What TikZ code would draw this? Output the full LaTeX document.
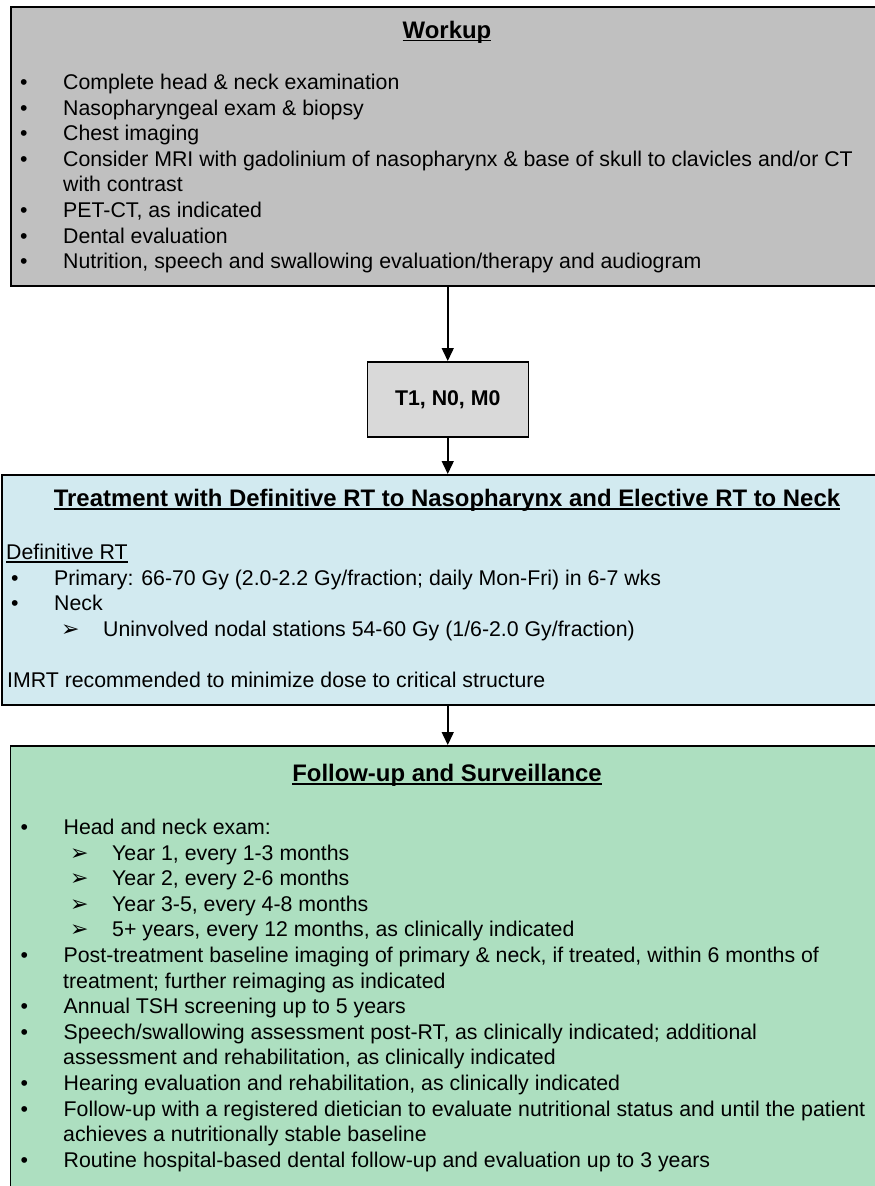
\documentclass[tikz,border=0pt]{standalone}
\usepackage{fontspec}
\setmainfont{Liberation Sans}
\newfontfamily\dingfont{DejaVu Sans}
\usetikzlibrary{arrows.meta}
\definecolor{workgray}{HTML}{C0C0C0}
\definecolor{stagegray}{HTML}{D9D9D9}
\definecolor{treatblue}{HTML}{D2EAF0}
\definecolor{followgreen}{HTML}{ADDFC0}
\def\bul{\makebox[43pt][l]{\textbullet}}
\def\subarrow{\makebox[42pt][l]{\dingfont\fontsize{22}{22}\selectfont ➢}}
\def\uln#1{\setbox0\hbox{#1}\rlap{\rule[-3.2pt]{\wd0}{1.4pt}}\box0}
\begin{document}
\begin{tikzpicture}[x=1pt,y=-1pt]
\tikzset{box/.style = {draw, line width=1.5pt, anchor=north west, inner sep=0pt}}
\tikzset{txt/.style = {anchor=base west, inner sep=0pt, font=\fontsize{21.3}{25.6}\selectfont}}
\tikzset{head/.style = {anchor=base, inner sep=0pt, font=\fontsize{23.9}{28}\selectfont\bfseries}}
\tikzset{edge/.style = {-{Triangle[length=13pt,width=12pt]}, line width=1.5pt}}
\useasboundingbox (0,0) rectangle (875,1186);
\node[box, fill=workgray, minimum width=874pt, minimum height=279pt] (workup) at (10,6) {};
\node[box, fill=stagegray, minimum width=161pt, minimum height=75pt, font=\fontsize{21.3}{25.6}\selectfont\bfseries] (stage) at (366.5,361) {T1, N0, M0};
\node[box, fill=treatblue, minimum width=892pt, minimum height=230pt] (treat) at (1,474) {};
\node[box, fill=followgreen, minimum width=875pt, minimum height=500pt] (follow) at (9.5,745) {};
\draw[edge] (workup) to (stage);
\draw[edge] (stage) to (treat);
\draw[edge] (treat) to (follow);
\node[head] (workuptitle) at (447,38) {\uln{Workup}};
\node[txt] (w1) at (20,89.5) {\bul Complete head \& neck examination};
\node[txt] (w2) at (20,115.1) {\bul Nasopharyngeal exam \& biopsy};
\node[txt] (w3) at (20,140.7) {\bul Chest imaging};
\node[txt] (w4) at (20,166.3) {\bul Consider MRI with gadolinium of nasopharynx \& base of skull to clavicles and/or CT};
\node[txt] (w4b) at (63,191.9) {with contrast};
\node[txt] (w5) at (20,217.5) {\bul PET-CT, as indicated};
\node[txt] (w6) at (20,243.1) {\bul Dental evaluation};
\node[txt] (w7) at (20,268.7) {\bul Nutrition, speech and swallowing evaluation/therapy and audiogram};
\node[head] (treattitle) at (447,506.5) {\uln{Treatment with Definitive RT to Nasopharynx and Elective RT to Neck}};
\node[txt] (t0) at (6,559.5) {\uln{Definitive RT}};
\node[txt] (t1) at (11,585.1) {\bul Primary: 66-70 Gy (2.0-2.2 Gy/fraction; daily Mon-Fri) in 6-7 wks};
\node[txt] (t2) at (11,610.7) {\bul Neck};
\node[txt] (t3) at (61,636.3) {\subarrow Uninvolved nodal stations 54-60 Gy (1/6-2.0 Gy/fraction)};
\node[txt] (t4) at (7,687.5) {IMRT recommended to minimize dose to critical structure};
\node[head] (followtitle) at (447,781.5) {\uln{Follow-up and Surveillance}};
\node[txt] (f1) at (20.5,834.5) {\bul Head and neck exam:};
\node[txt] (f1a) at (70,860.1) {\subarrow Year 1, every 1-3 months};
\node[txt] (f1b) at (70,885.7) {\subarrow Year 2, every 2-6 months};
\node[txt] (f1c) at (70,911.3) {\subarrow Year 3-5, every 4-8 months};
\node[txt] (f1d) at (70,936.9) {\subarrow 5+ years, every 12 months, as clinically indicated};
\node[txt] (f2) at (20.5,962.5) {\bul Post-treatment baseline imaging of primary \& neck, if treated, within 6 months of};
\node[txt] (f2b) at (63,988.1) {treatment; further reimaging as indicated};
\node[txt] (f3) at (20.5,1013.7) {\bul Annual TSH screening up to 5 years};
\node[txt] (f4) at (20.5,1039.3) {\bul Speech/swallowing assessment post-RT, as clinically indicated; additional};
\node[txt] (f4b) at (63,1064.9) {assessment and rehabilitation, as clinically indicated};
\node[txt] (f5) at (20.5,1090.5) {\bul Hearing evaluation and rehabilitation, as clinically indicated};
\node[txt] (f6) at (20.5,1116.1) {\bul Follow-up with a registered dietician to evaluate nutritional status and until the patient};
\node[txt] (f6b) at (63,1141.7) {achieves a nutritionally stable baseline};
\node[txt] (f7) at (20.5,1167.3) {\bul Routine hospital-based dental follow-up and evaluation up to 3 years};
\end{tikzpicture}
\end{document}
